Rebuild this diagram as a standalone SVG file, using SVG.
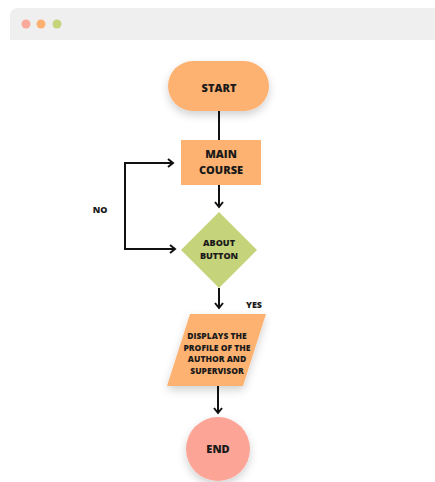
<svg xmlns="http://www.w3.org/2000/svg" width="435" height="482" viewBox="0 0 435 482">
<defs>
<filter id="sh" x="-30%" y="-30%" width="160%" height="170%">
<feDropShadow dx="0" dy="4" stdDeviation="4" flood-color="#000" flood-opacity="0.18"/>
</filter>
<marker id="arr" markerWidth="10" markerHeight="10" refX="7" refY="5" orient="auto-start-reverse" markerUnits="userSpaceOnUse">
<path d="M2,1 L7,5 L2,9" fill="none" stroke="#111" stroke-width="2"/>
</marker>
<style>
.t{font-family:"Open Sans","Noto Sans","Liberation Sans",sans-serif;font-weight:800;fill:#1a1a1a;text-anchor:middle}
.c{fill:none;stroke:#111;stroke-width:2}
</style>
</defs>
<rect width="435" height="482" fill="#fff"/>
<g id="browser-bar">
<path d="M18,8 H435 V40 H10 V16 A8,8 0 0 1 18,8 Z" fill="#efefef"/>
<circle cx="26" cy="24" r="4.5" fill="#f9a99a"/>
<circle cx="41" cy="24" r="4.5" fill="#fdb272"/>
<circle cx="57" cy="24" r="4.5" fill="#c5d37a"/>
</g>
<g id="connectors">
<line class="c" x1="219" y1="111" x2="219" y2="140"/>
<line class="c" x1="219" y1="185" x2="219" y2="207" marker-end="url(#arr)"/>
<polyline class="c" points="175,249 125,249 125,163 173,163" marker-start="url(#arr)" marker-end="url(#arr)"/>
<line class="c" x1="219" y1="288" x2="219" y2="308" marker-end="url(#arr)"/>
<line class="c" x1="218" y1="386" x2="218" y2="413" marker-end="url(#arr)"/>
<text class="t" x="100" y="213" font-size="9">NO</text>
<text class="t" x="254" y="308" font-size="9">YES</text>
</g>
<g id="start">
<rect x="168" y="61" width="101" height="50" rx="25" fill="#fdb271" filter="url(#sh)"/>
<text class="t" x="219" y="92" font-size="11">START</text>
</g>
<g id="main-course">
<rect x="181" y="140" width="80" height="45" fill="#fdb271"/>
<text class="t" x="221" y="158" font-size="11">MAIN</text>
<text class="t" x="221" y="174" font-size="11">COURSE</text>
</g>
<g id="about-button">
<polygon points="219,212 257,250 219,288 181,250" fill="#c5d37a"/>
<text class="t" x="219" y="246" font-size="9">ABOUT</text>
<text class="t" x="219" y="259" font-size="9">BUTTON</text>
</g>
<g id="displays">
<polygon points="190,314 266,314 243,386 167,386" fill="#fdb271" filter="url(#sh)"/>
<text class="t" x="217" y="339" font-size="8.5">DISPLAYS THE</text>
<text class="t" x="217" y="350.5" font-size="8.5">PROFILE OF THE</text>
<text class="t" x="217" y="362" font-size="8.5">AUTHOR AND</text>
<text class="t" x="217" y="373.5" font-size="8.5">SUPERVISOR</text>
</g>
<g id="end">
<circle cx="218" cy="449" r="32" fill="#fca597" filter="url(#sh)"/>
<text class="t" x="218" y="453" font-size="11">END</text>
</g>
</svg>
